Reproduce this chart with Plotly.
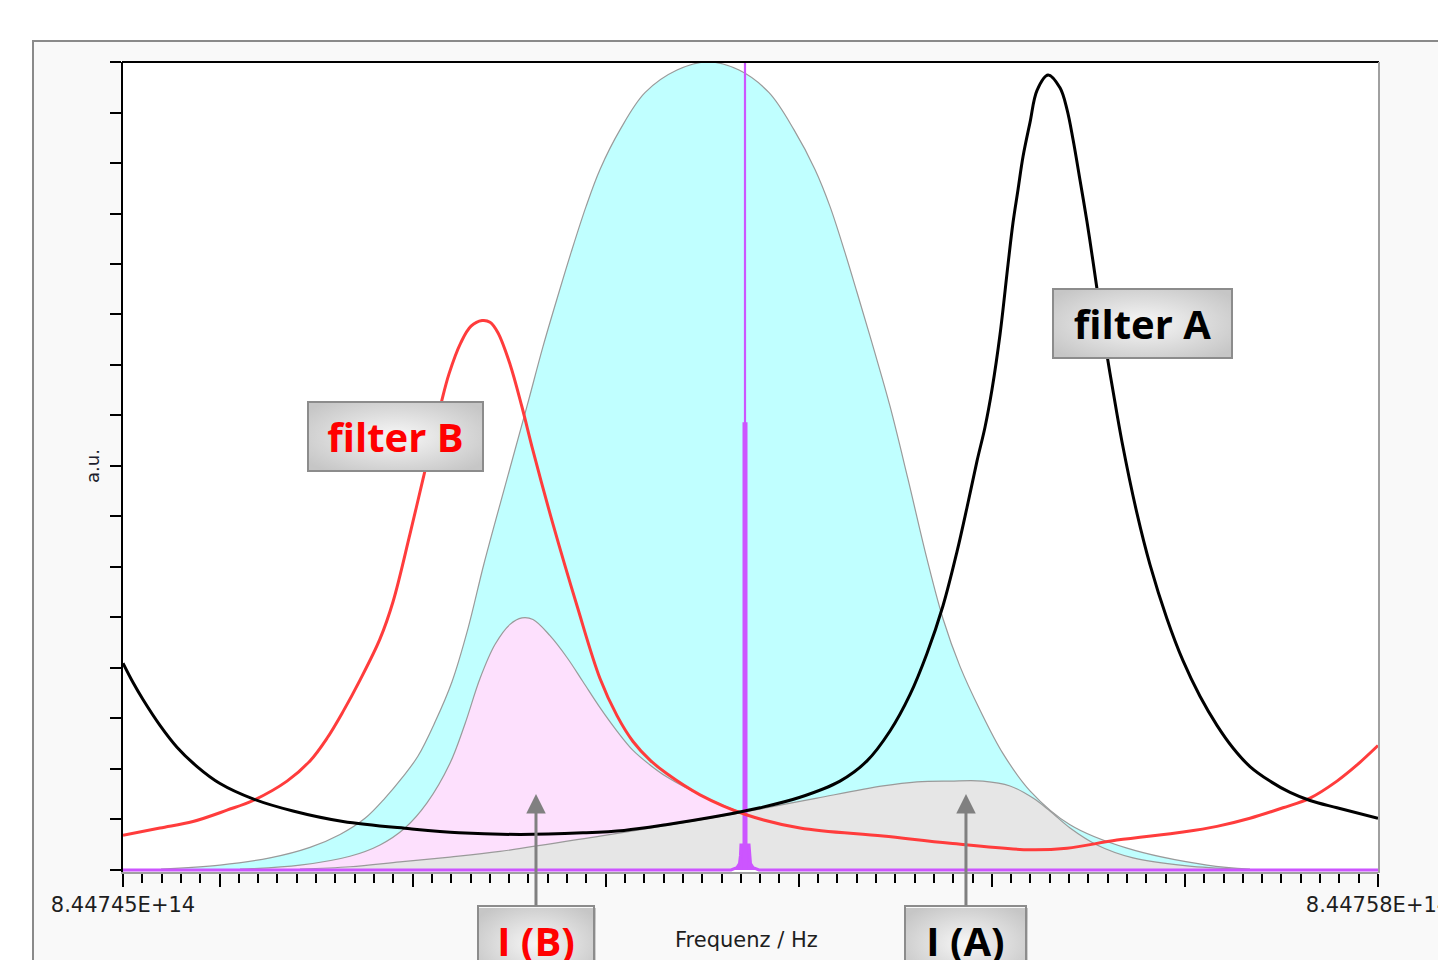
import base64
import plotly.graph_objects as go

# ---------------- data (frequency offsets in GHz above F0, intensities in a.u.) ----------------
F0 = 844745.0  # GHz  (= 8.44745E+14 Hz)
F_END = 844758.0

doppler_d = [0.394, 1.005, 1.523, 1.937, 2.248, 2.507, 2.714, 2.890, 3.056, 3.232,
             3.408, 3.574, 3.739, 3.978, 4.185, 4.351, 4.516, 4.641, 4.796, 4.941,
             5.148, 5.407, 5.739, 6.060,
             6.381, 6.692, 6.951, 7.168, 7.324, 7.479, 7.603, 7.769, 7.945, 8.131,
             8.328, 8.494, 8.670, 8.877, 9.116, 9.395, 9.810, 10.400, 11.229, 11.674]
doppler_y = [0.001, 0.006, 0.015, 0.028, 0.044, 0.064, 0.089, 0.114, 0.141, 0.183,
             0.233, 0.299, 0.379, 0.484, 0.574, 0.648, 0.715, 0.764, 0.821, 0.867,
             0.916, 0.962, 0.990, 1.000,
             0.990, 0.962, 0.916, 0.867, 0.821, 0.764, 0.715, 0.648, 0.574, 0.484,
             0.385, 0.311, 0.252, 0.198, 0.144, 0.098, 0.056, 0.027, 0.006, 0.001]

ib_d = [1.212, 1.833, 2.351, 2.662, 2.921, 3.149, 3.387, 3.543, 3.698, 3.853,
        4.009, 4.133, 4.247, 4.423, 4.599, 4.765, 4.941, 5.117, 5.283, 5.459,
        5.635, 5.977, 6.319, 6.598, 7.013, 8.049, 9.085, 10.120]
ib_y = [0.001, 0.006, 0.017, 0.031, 0.052, 0.083, 0.132, 0.181, 0.237, 0.279,
        0.304, 0.312, 0.310, 0.290, 0.263, 0.233, 0.201, 0.172, 0.148, 0.130,
        0.115, 0.093, 0.075, 0.064, 0.049, 0.021, 0.006, 0.001]

ia_d = [1.833, 2.351, 2.869, 3.387, 3.905, 4.941, 5.977, 6.495, 7.189, 7.873,
        8.225, 8.567, 8.908, 9.188, 9.426, 9.602, 9.810, 10.089, 10.462, 11.022,
        11.571]
ia_y = [0.001, 0.004, 0.010, 0.016, 0.023, 0.042, 0.062, 0.073, 0.089, 0.104,
        0.109, 0.110, 0.110, 0.104, 0.089, 0.073, 0.052, 0.031, 0.015, 0.005,
        0.001]

fa_d = [0.000, 0.104, 0.207, 0.383, 0.559, 0.767, 1.005, 1.347, 1.761, 2.279,
        2.973, 3.480, 4.112, 4.765, 5.190, 5.625, 6.184, 6.598, 7.013, 7.427,
        7.707, 7.945, 8.152, 8.328, 8.494, 8.639, 8.743, 8.846, 8.929, 9.002,
        9.085, 9.167, 9.219, 9.271, 9.323, 9.395, 9.468, 9.582, 9.706, 9.779,
        9.841, 9.913, 9.986, 10.048, 10.120, 10.193, 10.255, 10.348, 10.504, 10.638,
        10.814, 10.980, 11.156, 11.332, 11.498, 11.674, 11.881, 12.089, 12.296, 12.575,
        13.000]
fa_y = [0.256, 0.232, 0.211, 0.179, 0.152, 0.128, 0.107, 0.088, 0.073, 0.060,
        0.051, 0.046, 0.044, 0.046, 0.049, 0.056, 0.067, 0.077, 0.090, 0.110,
        0.135, 0.172, 0.217, 0.268, 0.327, 0.394, 0.449, 0.506, 0.548, 0.595,
        0.663, 0.749, 0.801, 0.842, 0.883, 0.925, 0.965, 0.984, 0.968, 0.941,
        0.904, 0.854, 0.802, 0.753, 0.694, 0.637, 0.593, 0.530, 0.441, 0.378,
        0.311, 0.259, 0.215, 0.179, 0.151, 0.128, 0.110, 0.096, 0.086, 0.077,
        0.064]

fb_d = [0.000, 0.383, 0.725, 1.077, 1.347, 1.699, 1.937, 2.113, 2.279, 2.455,
        2.662, 2.797, 2.973, 3.108, 3.294, 3.377, 3.501, 3.605, 3.719, 3.802,
        3.884, 4.009, 4.133, 4.247, 4.454, 4.703, 4.941, 5.117, 5.283, 5.459,
        5.635, 5.977, 6.464, 7.013, 7.873, 8.567, 9.395, 9.779, 10.296, 10.980,
        11.332, 11.674, 12.016, 12.296, 12.575, 12.783, 13.000]
fb_y = [0.043, 0.052, 0.060, 0.074, 0.086, 0.110, 0.135, 0.163, 0.196, 0.235,
        0.286, 0.332, 0.416, 0.484, 0.577, 0.614, 0.653, 0.673, 0.680, 0.678,
        0.665, 0.626, 0.573, 0.519, 0.428, 0.327, 0.237, 0.191, 0.159, 0.136,
        0.119, 0.093, 0.068, 0.052, 0.042, 0.033, 0.025, 0.027, 0.037, 0.047,
        0.054, 0.064, 0.077, 0.089, 0.110, 0.130, 0.154]

laser_pos = 6.443
laser_d = [0.000, 6.298, 6.360, 6.386, 6.396, 6.401, 6.485, 6.490, 6.500, 6.526, 6.588, 13.000]
laser_y = [0.000, 0.000, 0.003, 0.008, 0.018, 0.031, 0.031, 0.018, 0.008, 0.003, 0.000, 0.000]
laser_marker_full = 1.0
laser_marker_half = 0.554

x_major = [844745, 844746, 844748, 844750, 844752, 844754, 844756, 844758]
x_major_text = ["8.44745E+14", "", "", "", "", "", "", "8.44758E+14"]
y_ticks = [i / 16 for i in range(17)]

# ---------------- layout helpers (pixel -> paper, styling only) ----------------
W, H = 1438, 960
L, R, T, B = 123, 1378, 62, 872


def px(x):
    return (x - L) / (R - L)


def py(y):
    return (B - y) / (B - T)


def fx(d):
    return [F0 + v for v in d]


SM = 1.0
fig = go.Figure()

EDGE = "#9a9a9a"
fig.add_trace(go.Scatter(x=fx(doppler_d), y=doppler_y, mode="lines", fill="tozeroy",
                         fillcolor="#c0ffff", line=dict(color=EDGE, width=1.2, shape="spline", smoothing=SM),
                         hoverinfo="skip"))
fig.add_trace(go.Scatter(x=fx(ib_d), y=ib_y, mode="lines", fill="tozeroy",
                         fillcolor="#fde0fd", line=dict(color=EDGE, width=1.2, shape="spline", smoothing=SM),
                         hoverinfo="skip"))
fig.add_trace(go.Scatter(x=fx(ia_d), y=ia_y, mode="lines", fill="tozeroy",
                         fillcolor="#e6e6e6", line=dict(color=EDGE, width=1.2, shape="spline", smoothing=SM),
                         hoverinfo="skip"))

MAG = "#cc55ff"
fig.add_trace(go.Scatter(x=fx(laser_d), y=laser_y, mode="lines", fill="tozeroy", fillcolor=MAG,
                         line=dict(color=MAG, width=3), hoverinfo="skip"))
fig.add_trace(go.Scatter(x=[F0 + laser_pos] * 2, y=[0, laser_marker_full], mode="lines",
                         line=dict(color=MAG, width=2.2), hoverinfo="skip"))
fig.add_trace(go.Scatter(x=[F0 + laser_pos] * 2, y=[0, laser_marker_half], mode="lines",
                         line=dict(color=MAG, width=5), hoverinfo="skip"))

fig.add_trace(go.Scatter(x=fx(fb_d), y=fb_y, mode="lines",
                         line=dict(color="#ff3c3c", width=3, shape="spline", smoothing=SM),
                         hoverinfo="skip"))
fig.add_trace(go.Scatter(x=fx(fa_d), y=fa_y, mode="lines",
                         line=dict(color="#000000", width=3, shape="spline", smoothing=SM),
                         hoverinfo="skip"))

# ---------------- frame / borders ----------------
shapes = [
    dict(type="rect", xref="paper", yref="paper", x0=px(33), x1=px(1480), y0=py(1010), y1=py(41),
         line=dict(color="#8a8a8a", width=2), fillcolor="#f9f9f9", layer="below"),
    dict(type="rect", xref="paper", yref="paper", x0=0, x1=1, y0=0, y1=1,
         line=dict(width=0), fillcolor="#ffffff", layer="below"),
    dict(type="line", xref="paper", yref="paper", x0=px(122), x1=px(1379), y0=py(62), y1=py(62),
         line=dict(color="#000000", width=2)),
    dict(type="line", xref="paper", yref="paper", x0=px(1379), x1=px(1379), y0=py(62), y1=py(873),
         line=dict(color="#a0a0a0", width=2)),
]

# gradient box backgrounds
svg = ('<svg xmlns="http://www.w3.org/2000/svg" width="180" height="70" viewBox="0 0 180 70" '
       'preserveAspectRatio="none"><defs><radialGradient id="g" cx="50%" cy="50%" r="62%">'
       '<stop offset="0%" stop-color="#f7f7f7"/><stop offset="100%" stop-color="#c6c6c6"/>'
       '</radialGradient></defs><rect width="180" height="70" fill="url(#g)"/></svg>')
src = "data:image/svg+xml;base64," + base64.b64encode(svg.encode()).decode()

boxes = [  # (left, top, right, bottom) in px
    (1052, 288, 1233, 359),
    (307, 401, 484, 472),
    (478, 908, 596, 979),
    (905, 908, 1028, 979),
]
images = []
for (x0, y0, x1, y1) in boxes:
    images.append(dict(source=src, xref="paper", yref="paper", x=px(x0), y=py(y0),
                       sizex=px(x1) - px(x0), sizey=py(y0) - py(y1), sizing="stretch",
                       xanchor="left", yanchor="top", layer="above"))

LABEL_FONT = "Open Sans, DejaVu Sans, sans-serif"
annotations = []


def box_ann(text, color, bx, **kw):
    x0, y0, x1, y1 = bx
    a = dict(text="<b>%s</b>" % text, font=dict(family=LABEL_FONT, size=40, color=color),
             width=x1 - x0 - 4, height=y1 - y0 - 4, borderwidth=2, bordercolor="#8c8c8c",
             borderpad=0, bgcolor="rgba(0,0,0,0)", align="center", valign="middle")
    a.update(kw)
    return a


annotations.append(box_ann("filter A", "#000000", boxes[0], xref="paper", yref="paper",
                           x=px((boxes[0][0] + boxes[0][2]) / 2), y=py((boxes[0][1] + boxes[0][3]) / 2),
                           xanchor="center", yanchor="middle", showarrow=False))
annotations.append(box_ann("filter B", "#ff0000", boxes[1], xref="paper", yref="paper",
                           x=px((boxes[1][0] + boxes[1][2]) / 2), y=py((boxes[1][1] + boxes[1][3]) / 2),
                           xanchor="center", yanchor="middle", showarrow=False))
annotations.append(box_ann("I (B)", "#ff0000", boxes[2], xref="x", yref="y",
                           x=F0 + 4.278, y=0.094, showarrow=True, ax=0, ay=146,
                           arrowcolor="#808080", arrowwidth=3, arrowhead=2, arrowsize=1.3))
annotations.append(box_ann("I (A)", "#000000", boxes[3], xref="x", yref="y",
                           x=F0 + 8.732, y=0.094, showarrow=True, ax=0, ay=146,
                           arrowcolor="#808080", arrowwidth=3, arrowhead=2, arrowsize=1.3))

AXIS_FONT = "DejaVu Sans, sans-serif"
annotations.append(dict(text="Frequenz / Hz", xref="paper", yref="paper", x=px(746), y=py(940),
                        xanchor="center", yanchor="middle", showarrow=False,
                        font=dict(family=AXIS_FONT, size=21, color="#1e1e1e")))
annotations.append(dict(text="a.u.", xref="paper", yref="paper", x=px(92), y=py(466),
                        xanchor="center", yanchor="middle", showarrow=False, textangle=-90,
                        font=dict(family=AXIS_FONT, size=18, color="#1e1e2e")))

fig.update_layout(
    width=W, height=H, autosize=False,
    margin=dict(l=L, r=W - R, t=T, b=H - B, pad=0, autoexpand=False),
    paper_bgcolor="#ffffff", plot_bgcolor="#ffffff",
    showlegend=False,
    shapes=shapes, images=images, annotations=annotations,
    xaxis=dict(range=[F0, F_END], tickmode="array", tickvals=x_major, ticktext=x_major_text,
               ticks="outside", ticklen=13, tickwidth=2, tickcolor="#000000",
               ticklabeloverflow="allow", automargin=False,
               minor=dict(tickmode="linear", tick0=F0, dtick=0.2, ticks="outside",
                          ticklen=9, tickwidth=2, tickcolor="#000000"),
               showgrid=False, zeroline=False, showline=True, linecolor="#a0a0a0", linewidth=2,
               tickfont=dict(family=AXIS_FONT, size=21, color="#1e1e1e"), fixedrange=True),
    yaxis=dict(range=[-0.0025, 1.0], tickmode="array", tickvals=y_ticks, showticklabels=False,
               ticks="outside", ticklen=11, tickwidth=2, tickcolor="#000000", automargin=False,
               showgrid=False, zeroline=False, showline=True, linecolor="#000000", linewidth=2,
               fixedrange=True),
)

fig.write_html("out.html", config={"displayModeBar": False},
               post_script="document.body.style.margin='0px';document.body.style.overflow='hidden';")
